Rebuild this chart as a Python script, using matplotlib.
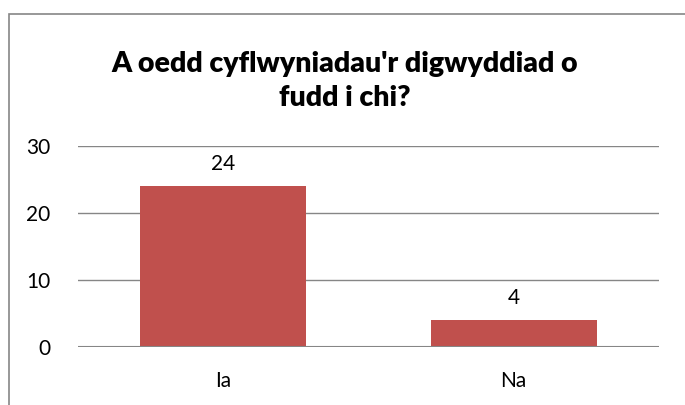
import matplotlib
matplotlib.use('Agg')
import matplotlib.pyplot as plt
from matplotlib.patches import Rectangle

## data
categories = ['Ia', 'Na']
counts = [24, 4]
yticks = [0, 10, 20, 30]
title = "A oedd cyflwyniadau'r digwyddiad o\nfudd i chi?"

W, H = 685, 405
plt.rcParams['font.family'] = ['Lato', 'DejaVu Sans']

fig = plt.figure(figsize=(W / 100, H / 100), dpi=100)
# plot area in pixels: x 78..659, y 146..347
ax = fig.add_axes([78 / W, 1 - 347 / H, (659 - 78) / W, (347 - 146) / H])

grey = '#868686'
bars = ax.bar(range(len(categories)), counts, width=0.57, color='#C0504D', zorder=3)
ax.set_xlim(-0.5, len(categories) - 0.5)
ax.set_ylim(0, 30)
ax.set_yticks(yticks)
ax.set_xticks(range(len(categories)))
ax.set_xticklabels(categories, fontsize=15)
ax.tick_params(axis='both', length=0, labelsize=15, colors='black')
ax.tick_params(axis='y', pad=20)
ax.tick_params(axis='x', pad=17)
for y in yticks:
    ax.axhline(y, color=grey, lw=1.0, zorder=1)
for s in ax.spines.values():
    s.set_visible(False)
ax.axhline(0, color=grey, lw=1.5, zorder=4)

for b, v in zip(bars, counts):
    ax.annotate(str(v), (b.get_x() + b.get_width() / 2, v), xytext=(0, 9),
                textcoords='offset points', ha='center', va='bottom', fontsize=15)

fig.text(345 / W, 1 - 81 / H, title, ha='center', va='center', fontsize=20.5,
         fontweight='heavy', linespacing=1.35)

# chart border
fig.patches.append(Rectangle((9 / W, -0.1), 1.0, 1 - 14 / H + 0.1, transform=fig.transFigure,
                             fill=False, edgecolor=grey, lw=1.2))

fig.savefig('out.png', dpi=100)
